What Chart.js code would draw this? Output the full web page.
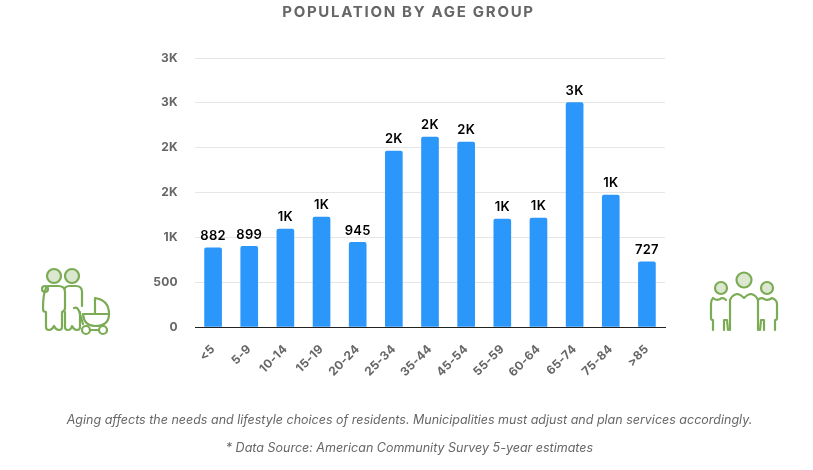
<!DOCTYPE html>
<html>
<head>
<meta charset="utf-8">
<title>Population by age group</title>
<script src="https://cdn.jsdelivr.net/npm/chart.js@4"></script>
<style>
    html, body { margin: 0; padding: 0; background: #fff; }
    #wrap { position: relative; width: 813px; height: 470px; overflow: hidden; font-family: Inter, "Open Sans", sans-serif; }
    canvas { position: absolute; left: 0; top: 0; }
    .heading { position: absolute; left: 0; top: 2px; width: 817px; text-align: center; font-size: 15px; font-weight: 700; letter-spacing: 1.7px; color: #666; white-space: nowrap; }
    .note { position: absolute; left: 0; width: 819px; text-align: center; font-style: italic; font-size: 12.5px; color: #666; white-space: nowrap; }
    svg { position: absolute; fill: none; stroke: #7bab55; stroke-width: 2.2; stroke-linecap: round; stroke-linejoin: round; }
    svg .head { fill: #dbe8cf; }
</style>
</head>
<body>
<div id="wrap">
    <canvas id="chart" width="813" height="470"></canvas>

    <div class="heading">POPULATION BY AGE GROUP</div>

    <svg style="left:38px;top:264px" width="76" height="72" viewBox="0 0 76 72">
        <circle class="head" cx="16" cy="12" r="7"/>
        <circle class="head" cx="34" cy="12" r="7"/>
        <path d="M8 24 C5 30 5 40 5 45 Q5 48 8 48 L8 63 Q8 66 11 66 Q14 66 16 62 Q18 66 21 66 Q24 66 24 63 L24 48 Q27 47 27 44 L27 28 Q27 22 20 22 L10 22"/>
        <circle cx="7" cy="25" r="3"/>
        <path d="M27 24 Q28 22 32 22 L38 22 Q44 22 44 28 L44 42"/>
        <path d="M27 48 L27 63 Q27 66 30 66 Q33 66 34 62 Q36 66 39 66 Q42 66 42 63 L42 48"/>
        <path d="M36 44 Q40 42 42 50 L45 60 M45 50 L71 50 M45 50 Q46 62 57 62 Q71 62 71 50 Q71 36 57 34 L57 50"/>
        <circle cx="48" cy="66" r="4"/>
        <circle cx="65" cy="66" r="4"/>
        <path d="M52 66 L61 66"/>
    </svg>

    <svg style="left:706px;top:270px" width="76" height="64" viewBox="0 0 76 64">
        <circle class="head" cx="15" cy="18" r="6"/>
        <circle class="head" cx="38" cy="10" r="7.5"/>
        <circle class="head" cx="61" cy="18" r="6"/>
        <path d="M20 30 Q17 27 14 29 Q10 31 7 28 Q5 30 5 34 L5 48 Q5 50 7 50 L7 60 M18 60 L18 50 L21 50 L22 60"/>
        <path d="M24 60 L24 30 Q26 25 31 24 Q34 24 38 28 Q42 24 45 24 Q50 25 52 30 L52 60"/>
        <path d="M52 30 Q55 27 58 29 Q62 31 66 28 Q71 30 71 34 L71 48 Q71 50 69 50 L69 60 M58 60 L58 50 L55 50 L54 60"/>
    </svg>

    <div class="note" style="top:412px">Aging affects the needs and lifestyle choices of residents. Municipalities must adjust and plan services accordingly.</div>
    <div class="note" style="top:440px">* Data Source: American Community Survey 5-year estimates</div>
</div>

<script>
var ageGroups = ["<5", "5-9", "10-14", "15-19", "20-24", "25-34", "35-44", "45-54", "55-59", "60-64", "65-74", "75-84", ">85"];
var population = [882, 899, 1093, 1226, 945, 1962, 2118, 2063, 1204, 1215, 2503, 1472, 727];

function shortNumber(v) {
    if (v >= 1000) {
        return Math.round(v / 1000) + "K";
    }
    return "" + v;
}

// chart.js has no spacing option for the text so set it on the context
var spacing = {
    id: "spacing",
    beforeDraw: function (chart) {
        chart.ctx.letterSpacing = "0.3px";
    }
};

var barLabels = {
    id: "barLabels",
    afterDatasetsDraw: function (chart) {
        var ctx = chart.ctx;
        var bars = chart.getDatasetMeta(0).data;
        ctx.save();
        ctx.font = "600 13px Inter";
        ctx.fillStyle = "#000";
        ctx.textAlign = "center";
        ctx.textBaseline = "bottom";
        for (var i = 0; i < bars.length; i++) {
            ctx.fillText(shortNumber(population[i]), bars[i].x, bars[i].y - 5);
        }
        ctx.restore();
    }
};

new Chart(document.getElementById("chart"), {
    type: "bar",
    data: {
        labels: ageGroups,
        datasets: [{
            data: population,
            backgroundColor: "#2b97fb",
            barThickness: 17,
            borderRadius: { topLeft: 2, topRight: 2 },
            borderSkipped: "bottom"
        }]
    },
    plugins: [spacing, barLabels],
    options: {
        responsive: false,
        animation: false,
        layout: { padding: { left: 0, right: 148, top: 58, bottom: 0 } },
        plugins: {
            legend: { display: false },
            tooltip: { enabled: false }
        },
        scales: {
            x: {
                afterFit: function (axis) { axis.height = 143; },
                grid: { display: false, drawTicks: false },
                border: { color: "#222", width: 1 },
                ticks: {
                    color: "#666",
                    font: { family: "Inter", size: 12, weight: "700" },
                    minRotation: 45,
                    maxRotation: 45,
                    padding: 15
                }
            },
            y: {
                min: 0,
                max: 3000,
                afterFit: function (axis) { axis.width = 195; },
                grid: { color: "#e6e6e6", drawTicks: false },
                border: { display: false },
                ticks: {
                    stepSize: 500,
                    padding: 17,
                    color: "#666",
                    font: { family: "Inter", size: 12, weight: "700" },
                    callback: function (v) { return shortNumber(v); }
                }
            }
        }
    }
});
</script>
</body>
</html>
